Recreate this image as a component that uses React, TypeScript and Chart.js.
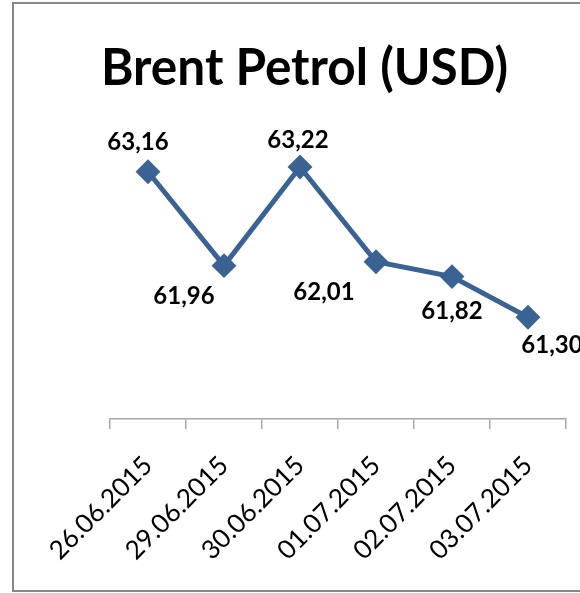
import React, { useEffect, useRef } from 'react';
import { Chart, registerables } from 'chart.js';

Chart.register(...registerables);

const TITLE = 'Brent Petrol (USD)';
const DATES = ['26.06.2015', '29.06.2015', '30.06.2015', '01.07.2015', '02.07.2015', '03.07.2015'];
const PRICES = [63.16, 61.96, 63.22, 62.01, 61.82, 61.3];
const Y_MIN = 60;
const Y_MAX = 64;

// label placement relative to each point: [dx to text centre, dy to text baseline]
const LABEL_OFFSETS: [number, number][] = [
  [-10, -22],
  [-40, 38],
  [-2, -19],
  [-52, 38],
  [0, 42],
  [24, 36],
];

const LINE_COLOR = '#3A6394';

const titlePlugin = {
  id: 'customTitle',
  afterDraw(chart: any) {
    const ctx = chart.ctx;
    ctx.save();
    ctx.font = 'bold 52px Lato';
    ctx.fillStyle = '#000';
    ctx.textAlign = 'center';
    ctx.textBaseline = 'alphabetic';
    ctx.translate(290.5, 81);
    ctx.scale(0.953, 1);
    ctx.fillText(TITLE, 0, 0);
    ctx.restore();
  },
};

const valueLabelPlugin = {
  id: 'valueLabels',
  afterDatasetsDraw(chart: any) {
    const ctx = chart.ctx;
    const meta = chart.getDatasetMeta(0);
    ctx.save();
    ctx.font = 'bold 24px Lato';
    ctx.fillStyle = '#000';
    ctx.textAlign = 'center';
    ctx.textBaseline = 'alphabetic';
    meta.data.forEach((pt: any, i: number) => {
      const [dx, dy] = LABEL_OFFSETS[i];
      const txt = PRICES[i].toFixed(2).replace('.', ',');
      ctx.fillText(txt, pt.x + dx, pt.y + dy);
    });
    ctx.restore();
  },
};

export default function App() {
  const ref = useRef<HTMLCanvasElement>(null);
  useEffect(() => {
    const chart = new Chart(ref.current!, {
      type: 'line',
      data: {
        labels: DATES,
        datasets: [
          {
            data: PRICES,
            borderColor: LINE_COLOR,
            backgroundColor: LINE_COLOR,
            borderWidth: 5,
            pointStyle: 'rectRot',
            pointRadius: 11,
            pointBorderWidth: 2,
            pointBackgroundColor: LINE_COLOR,
            pointBorderColor: LINE_COLOR,
            tension: 0,
            clip: false as any,
          },
        ],
      },
      options: {
        responsive: false,
        animation: false,
        devicePixelRatio: 1,
        layout: { padding: { left: 96, right: 108, top: 102, bottom: 0 } },
        plugins: {
          legend: { display: false },
          tooltip: { enabled: false },
          title: { display: false },
        },
        scales: {
          x: {
            type: 'category',
            offset: true,
            grid: {
              offset: true,
              drawOnChartArea: false,
              drawTicks: true,
              tickLength: 10,
              color: '#a6a6a6',
              lineWidth: 1.5,
            },
            border: { color: '#a6a6a6', width: 1.5 },
            ticks: {
              minRotation: 45,
              maxRotation: 45,
              autoSkip: false,
              padding: 21,
              color: '#000',
              font: { family: 'Lato', size: 26 },
            },
            afterFit: (s: any) => {
              s.height = 171;
            },
          },
          y: { display: false, min: Y_MIN, max: Y_MAX },
        },
      },
      plugins: [titlePlugin, valueLabelPlugin],
    });
    return () => chart.destroy();
  }, []);

  return (
    <div style={{ position: 'fixed', left: 0, top: 0, width: 580, height: 593, overflow: 'hidden', background: '#fff' }}>
      <div
        style={{
          position: 'absolute',
          left: 12,
          top: 2,
          width: 664,
          height: 590,
          border: '2px solid #888888',
          boxSizing: 'border-box',
        }}
      >
        <canvas ref={ref} width={660} height={586} style={{ display: 'block', width: 660, height: 586 }} />
      </div>
    </div>
  );
}
